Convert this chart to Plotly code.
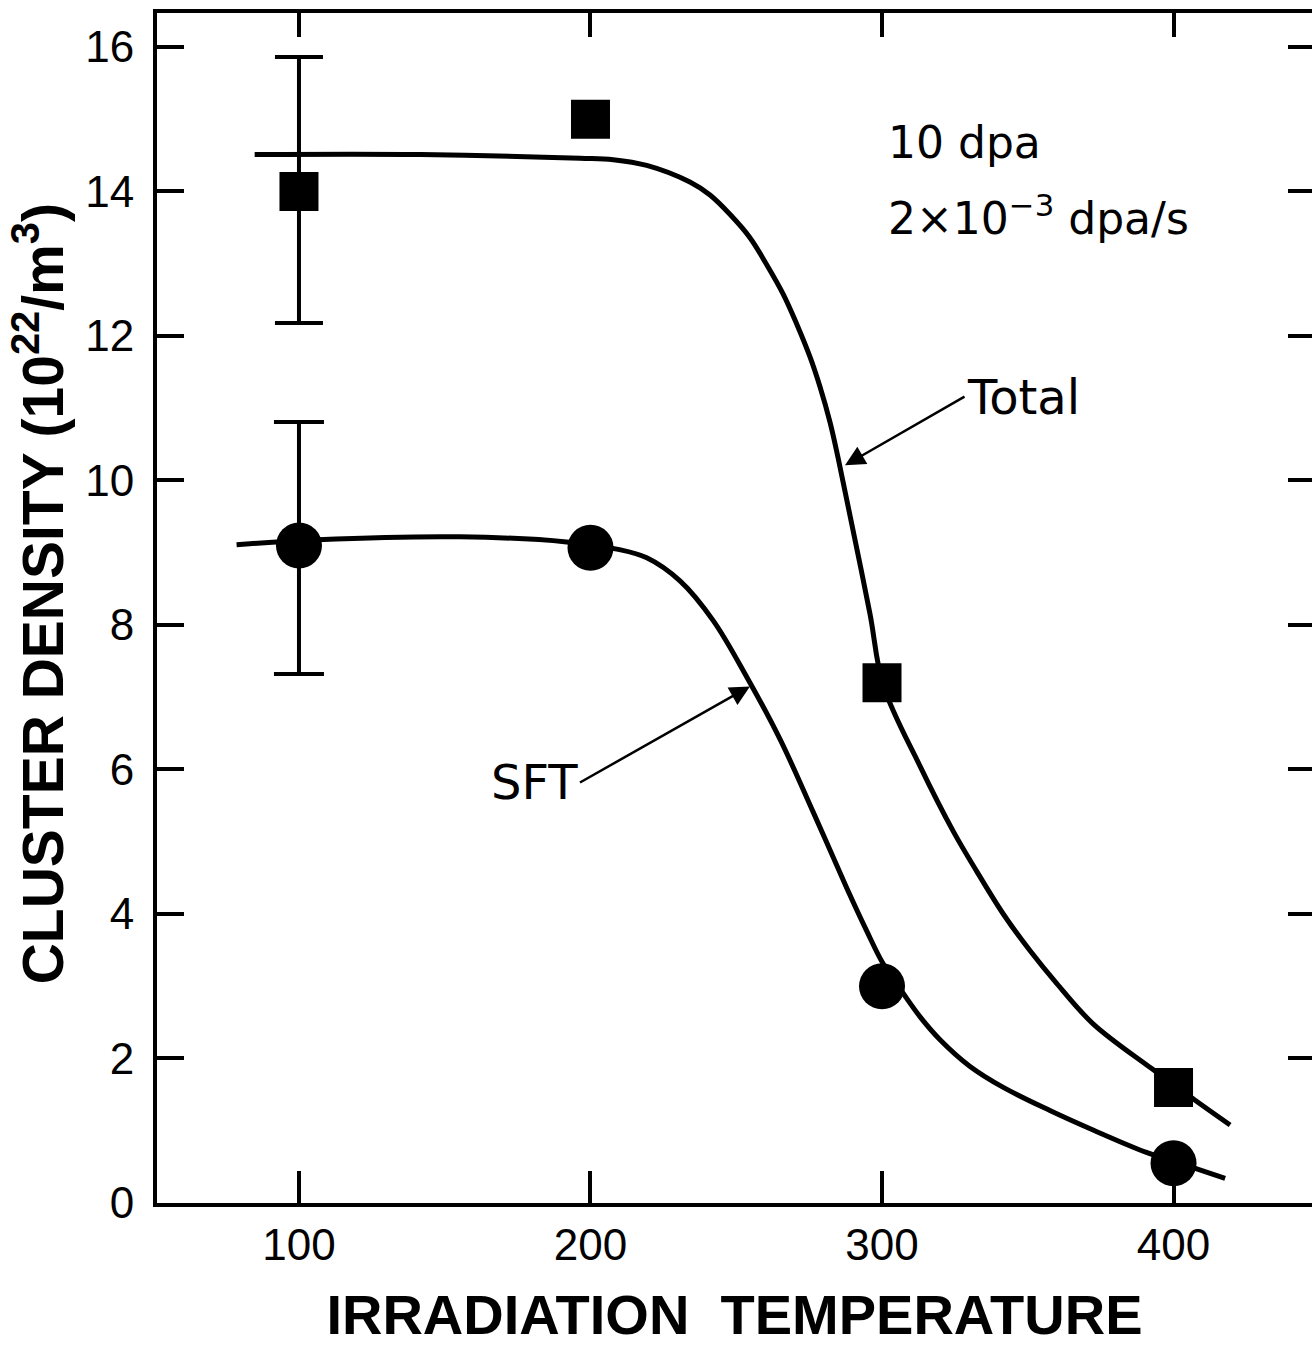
import plotly.graph_objects as go

# Measured points (irradiation temperature, cluster density in 1e22 / m^3)
temps = [100, 200, 300, 400]
total_density = [14.0, 15.0, 7.2, 1.6]
sft_density = [9.1, 9.07, 3.0, 0.55]

# Scatter at 100 (error bars on the first point only)
err_temp = [100]
total_err_center = [14.0]
total_err_plus = [1.86]
total_err_minus = [1.82]
sft_err_center = [9.1]
sft_err_plus = [1.71]
sft_err_minus = [1.78]

# Hand-drawn guide curves through the data
total_curve_t = [84.8, 141.8, 196.4, 207.8, 219.3, 234.1, 241.0, 247.9, 254.7, 260.4,
                 266.1, 270.7, 275.3, 278.7, 282.2, 285.0, 289.0, 295.9, 300.4, 313.0,
                 324.5, 332.5, 341.6, 350.8, 359.9, 372.4, 392.5, 406.8, 419.4]
total_curve_v = [14.51, 14.51, 14.46, 14.44, 14.36, 14.13, 13.95, 13.68, 13.36, 12.99,
                 12.58, 12.17, 11.71, 11.30, 10.80, 10.30, 9.52, 8.15, 7.17, 6.05,
                 5.14, 4.59, 4.00, 3.49, 3.04, 2.48, 1.86, 1.44, 1.08]

sft_curve_t = [78.6, 106.5, 155.2, 191.8, 209.0, 219.3, 230.7, 242.1, 253.6, 265.0,
               276.4, 287.9, 294.7, 300.4, 307.3, 313.0, 319.9, 330.2, 341.6, 357.6,
               372.4, 390.7, 406.7, 417.7]
sft_curve_v = [9.11, 9.18, 9.22, 9.15, 9.05, 8.93, 8.61, 8.06, 7.28, 6.42,
               5.41, 4.36, 3.77, 3.31, 2.90, 2.58, 2.26, 1.89, 1.60, 1.28,
               1.01, 0.70, 0.49, 0.34]

x_ticks = [100, 200, 300, 400]
y_ticks = [0, 2, 4, 6, 8, 10, 12, 14, 16]

INK = "black"
TICK_FONT = dict(family="Liberation Sans", size=44, color=INK)
TITLE_FONT = dict(family="Liberation Sans", size=56, color=INK, weight="bold")
YTITLE_FONT = dict(family="Liberation Sans", size=57, color=INK, weight="bold")
NOTE_FONT = dict(family="DejaVu Sans", size=44, color=INK)
LABEL_FONT = dict(family="DejaVu Sans", size=48, color=INK)

x_range = [51.3, 447.5]
y_range = [0, 16.47]

fig = go.Figure()

# error bars
fig.add_trace(go.Scatter(
    x=err_temp, y=total_err_center, mode="markers",
    marker=dict(size=1, color="rgba(0,0,0,0)"),
    error_y=dict(type="data", symmetric=False, array=total_err_plus,
                 arrayminus=total_err_minus, width=24, thickness=4, color=INK),
    showlegend=False, hoverinfo="skip"))
fig.add_trace(go.Scatter(
    x=err_temp, y=sft_err_center, mode="markers",
    marker=dict(size=1, color="rgba(0,0,0,0)"),
    error_y=dict(type="data", symmetric=False, array=sft_err_plus,
                 arrayminus=sft_err_minus, width=25, thickness=4, color=INK),
    showlegend=False, hoverinfo="skip"))

# guide curves
fig.add_trace(go.Scatter(
    x=total_curve_t, y=total_curve_v, mode="lines",
    line=dict(color=INK, width=5, shape="spline", smoothing=1.0),
    showlegend=False, hoverinfo="skip"))
fig.add_trace(go.Scatter(
    x=sft_curve_t, y=sft_curve_v, mode="lines",
    line=dict(color=INK, width=5, shape="spline", smoothing=1.0),
    showlegend=False, hoverinfo="skip"))

# data markers
fig.add_trace(go.Scatter(
    x=temps, y=total_density, mode="markers", name="Total",
    marker=dict(symbol="square", size=39, color=INK, line=dict(width=0)),
    showlegend=False))
fig.add_trace(go.Scatter(
    x=temps, y=sft_density, mode="markers", name="SFT",
    marker=dict(symbol="circle", size=46, color=INK, line=dict(width=0)),
    showlegend=False))

# invisible traces so the mirrored top / right tick axes are drawn
fig.add_trace(go.Scatter(x=[None], y=[None], xaxis="x2", yaxis="y",
                         showlegend=False, hoverinfo="skip"))
fig.add_trace(go.Scatter(x=[None], y=[None], xaxis="x", yaxis="y2",
                         showlegend=False, hoverinfo="skip"))

fig.update_layout(
    width=1312, height=1346,
    margin=dict(l=157, r=0, t=13, b=131),
    paper_bgcolor="white", plot_bgcolor="white",
    showlegend=False,
    xaxis=dict(
        range=x_range, tickvals=x_ticks, ticktext=[str(v) for v in x_ticks],
        ticks="inside", ticklen=32, tickwidth=4, tickcolor=INK,
        showline=True, linewidth=4, linecolor=INK,
        showgrid=False, zeroline=False, tickfont=TICK_FONT,
        ticklabelstandoff=0,
        title=dict(text="IRRADIATION  TEMPERATURE", font=TITLE_FONT, standoff=38),
    ),
    xaxis2=dict(
        range=x_range, overlaying="x", side="top", anchor="y",
        tickvals=x_ticks, ticks="inside", ticklen=24, tickwidth=4, tickcolor=INK,
        showline=True, linewidth=4, linecolor=INK,
        showgrid=False, zeroline=False, showticklabels=False,
    ),
    yaxis=dict(
        range=y_range, tickvals=y_ticks, ticktext=[str(v) for v in y_ticks],
        ticks="inside", ticklen=27, tickwidth=4, tickcolor=INK,
        showline=True, linewidth=4, linecolor=INK,
        showgrid=False, zeroline=False, tickfont=TICK_FONT,
        ticklabelstandoff=10,
    ),
    yaxis2=dict(
        range=y_range, overlaying="y", side="right", anchor="x",
        tickvals=y_ticks[1:], ticks="inside", ticklen=24, tickwidth=4, tickcolor=INK,
        showline=False, showgrid=False, zeroline=False, showticklabels=False,
    ),
)

# y-axis title, placed in the left margin
fig.add_annotation(x=-0.1025, y=0.512, xref="paper", yref="paper",
                   text="CLUSTER DENSITY (10<sup>22</sup>/m<sup>3</sup>)",
                   textangle=-90, showarrow=False, xanchor="center", yanchor="middle",
                   font=YTITLE_FONT)

# irradiation conditions
fig.add_annotation(x=301.2, y=14.68, xref="x", yref="y", text="10 dpa",
                   showarrow=False, xanchor="left", yanchor="middle", font=NOTE_FONT)
fig.add_annotation(x=301.2, y=13.67, xref="x", yref="y",
                   text="2\u00d710<sup>\u22123</sup> dpa/s",
                   showarrow=False, xanchor="left", yanchor="middle", font=NOTE_FONT)

# curve labels with leader arrows (arrow tail sits at the label)
fig.add_annotation(x=287.3, y=10.21, ax=328.3, ay=11.16, xref="x", yref="y",
                   axref="x", ayref="y", text="Total", font=LABEL_FONT,
                   xanchor="left", yanchor="middle", showarrow=True,
                   arrowhead=2, arrowsize=1.6, arrowwidth=2.5, arrowcolor=INK,
                   standoff=0, startstandoff=0)
fig.add_annotation(x=254.7, y=7.15, ax=196.4, ay=5.82, xref="x", yref="y",
                   axref="x", ayref="y", text="SFT", font=LABEL_FONT,
                   xanchor="right", yanchor="middle", showarrow=True,
                   arrowhead=2, arrowsize=1.6, arrowwidth=2.5, arrowcolor=INK,
                   standoff=0, startstandoff=0)

fig.write_html("out.html")
